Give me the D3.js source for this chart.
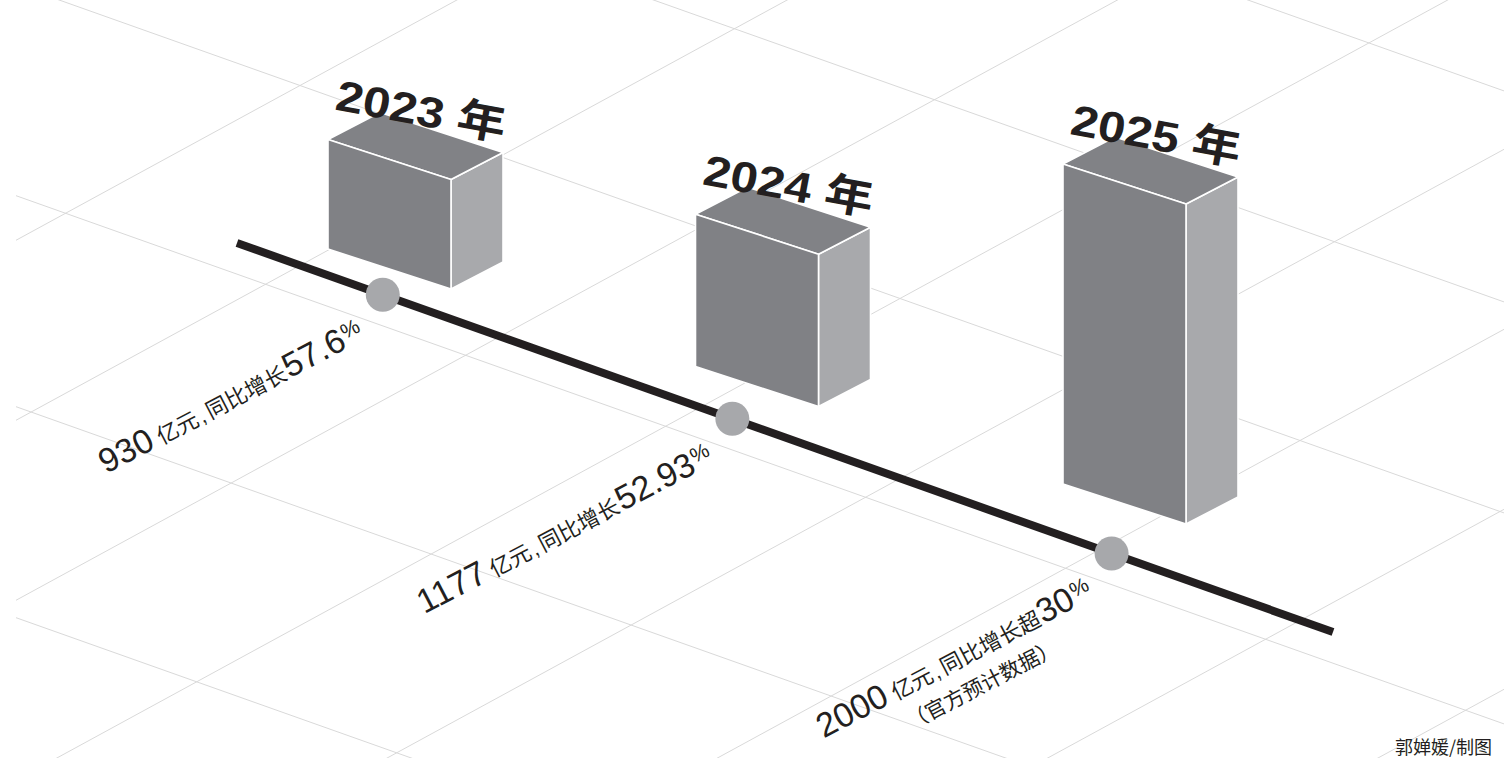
<!DOCTYPE html>
<html><head><meta charset="utf-8">
<script src="https://cdn.jsdelivr.net/npm/d3@7/dist/d3.min.js"></script>
<style>html,body{margin:0;padding:0;background:#fff;}svg{display:block}</style>
</head><body>
<svg id="chart" width="1504" height="758"></svg>
<script>
// ---- data ----
const years = ["2023", "2024", "2025"];
const yearSuffix = "年";
const values = [930, 1177, 2000];          // 亿元
const growthText = ["同比增长", "同比增长", "同比增长超"];
const growthValues = ["57.6", "52.93", "30"];
const notes = ["", "", "（官方预计数据）"];
const unit = "亿元";
const credit = "郭婵媛/制图";

// ---- setup ----
const W = 1504, H = 758;
const svg = d3.select("#chart");
const ink = "#231f20";
const latin = "'Liberation Sans', Arimo, 'Noto Sans CJK SC', sans-serif";
const cjk = "'Noto Sans CJK SC', 'Liberation Sans', sans-serif";

// oblique ground-plane directions
const slopeA = 0.355, slopeB = -0.545;

// grid
const gridA = d3.scaleLinear().domain([0, 1]).range([-21, 190]);
const gridB = d3.scaleLinear().domain([0, 1]).range([249, 429]);
const gx0 = 16;
const grid = svg.append("g").attr("stroke", "#d9d9d9").attr("stroke-width", 1).attr("fill", "none");
d3.range(-2, 4).forEach(k => {
  const d = gridA(k);
  grid.append("line").attr("x1", gx0).attr("y1", slopeA * gx0 + d).attr("x2", W).attr("y2", slopeA * W + d);
});
d3.range(0, 8).forEach(k => {
  const c = gridB(k);
  grid.append("line").attr("x1", gx0).attr("y1", slopeB * gx0 + c).attr("x2", W).attr("y2", slopeB * W + c);
});

// timeline (slight perspective foreshortening along the axis)
const lineX = d3.scaleLinear().domain([0, 1]).range([237, 1333]);
const lineY = d3.scaleLinear().domain([0, 1]).range([243, 632]);
const along = d3.scalePow().exponent(1.06).domain([0, years.length - 1]).range([0.133, 0.798]);
svg.append("line")
  .attr("x1", lineX(0)).attr("y1", lineY(0)).attr("x2", lineX(1)).attr("y2", lineY(1))
  .attr("stroke", ink).attr("stroke-width", 8);
svg.append("g").selectAll("circle").data(years).join("circle")
  .attr("cx", (d, i) => lineX(along(i))).attr("cy", (d, i) => lineY(along(i)))
  .attr("r", 17).attr("fill", "#a7a8ab");

// bars
const barX = d3.scalePoint().domain(years).range([328, 1063]);
const barBase = d3.scalePoint().domain(years).range([249, 484]);
const hScale = d3.scalePow().exponent(1.4).domain([0, 2000]).range([0, 320]);
const front = [123, 40], depth = [52, -27];
const add = (p, v) => [p[0] + v[0], p[1] + v[1]];
const bars = svg.append("g");
const labels = svg.append("g");
years.forEach((yr, i) => {
  const x = barX(yr), yb = barBase(yr), h = hScale(values[i]);
  const BL = [x, yb], BR = add(BL, front), TL = [x, yb - h], TR = add(TL, front);
  const faces = [
    { pts: [BR, add(BR, depth), add(TR, depth), TR], fill: "#a8a9ac" },
    { pts: [TL, TR, add(TR, depth), add(TL, depth)], fill: "#818286" },
    { pts: [BL, BR, TR, TL], fill: "#808185" }
  ];
  const g = bars.append("g");
  faces.forEach(f => g.append("path")
    .attr("d", "M" + f.pts.map(p => p.join(",")).join("L") + "Z")
    .attr("fill", f.fill).attr("stroke", "#fff").attr("stroke-width", 1.6).attr("stroke-linejoin", "round"));
  // year label
  labels.append("text")
    .attr("transform", `translate(${TL[0] + 6},${TL[1] - 30}) rotate(10.5)`)
    .attr("font-family", latin).attr("font-weight", 700).attr("font-size", 43)
    .attr("fill", ink)
    .attr("textLength", 172).attr("lengthAdjust", "spacingAndGlyphs")
    .text(yr + " " + yearSuffix);

  // value label, end-anchored near its timeline dot
  const ex = lineX(along(i)) - 17, ey = lineY(along(i)) + 44;
  const t = labels.append("text")
    .attr("transform", `translate(${ex},${ey}) rotate(-27.5)`)
    .attr("text-anchor", "end").attr("fill", ink);
  t.append("tspan").attr("font-family", latin).attr("font-size", 34).text(values[i]);
  t.append("tspan").attr("font-family", cjk).attr("font-size", 22).attr("dx", 6).text(unit);
  t.append("tspan").attr("font-family", latin).attr("font-size", 22).attr("dx", 2).text(",");
  t.append("tspan").attr("font-family", cjk).attr("font-size", 22).attr("dx", 3).text(growthText[i]);
  t.append("tspan").attr("font-family", latin).attr("font-size", 34).attr("dx", 1).text(growthValues[i]);
  t.append("tspan").attr("font-family", latin).attr("font-size", 21).attr("dx", 1).attr("dy", -9).text("%");
  if (notes[i]) {
    labels.append("text")
      .attr("transform", `translate(${ex},${ey}) rotate(-27.5) translate(-56,33)`)
      .attr("text-anchor", "end").attr("fill", ink)
      .attr("font-family", cjk).attr("font-size", 21)
      .text(notes[i]);
  }
});

// credit
svg.append("text").attr("x", 1492).attr("y", 754).attr("text-anchor", "end")
  .attr("font-family", cjk).attr("font-size", 18).attr("fill", ink).text(credit);
</script>
</body></html>
